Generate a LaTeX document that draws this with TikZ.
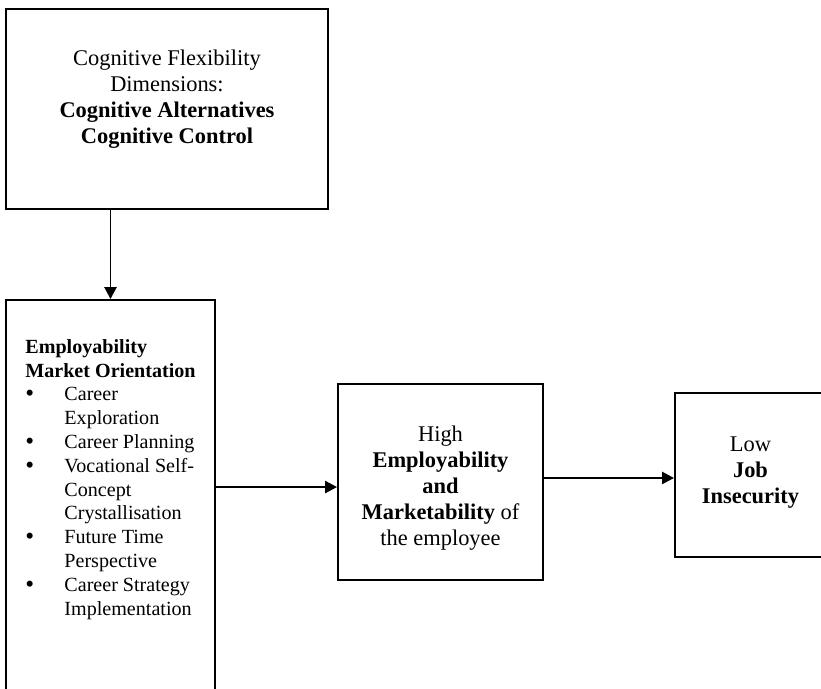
\documentclass[tikz,border=0pt]{standalone}
\usepackage{fontspec}
\setmainfont{Liberation Serif}
\usetikzlibrary{arrows.meta,fit}
% bullet column and hanging indent for the list items
\newcommand\bul{\makebox[20.9pt][l]{\raisebox{-0.5pt}{\fontsize{13.5}{13.5}\selectfont\textbullet}}}
\newcommand\ind{\hspace*{20.9pt}}
\begin{document}
\begin{tikzpicture}[x=0.535pt,y=-0.535pt,
  box/.style={draw=black,line width=1.1pt,inner sep=0pt},
  txt/.style={inner sep=0pt,anchor=north,align=center,font=\fontsize{12}{13.9}\selectfont},
  listtxt/.style={inner sep=0pt,anchor=north west,align=left,font=\fontsize{10.75}{12.73}\selectfont},
  arr/.style={line width=0.9pt,-{Triangle[length=6.4pt,width=6.6pt]}}]
\useasboundingbox (0,0) rectangle (821,688);
\clip (0,0) rectangle (821,688);
\fill[white] (0,0) rectangle (821,688);

% boxes
\node[box,fit={(6,9) (328,209)}] (flex) {};
\node[box,fit={(6,300) (215,740)}] (orient) {};
\node[box,fit={(338,384) (543,580)}] (employ) {};
\node[box,fit={(675,393) (826,557)}] (insec) {};

% box texts
\node[txt] (flextext) at (167,50) {Cognitive Flexibility\\Dimensions:\\\textbf{Cognitive Alternatives}\\\textbf{Cognitive Control}};
\node[listtxt] (orienttext) at (25,339) {\textbf{Employability}\\
\textbf{Market Orientation}\\
\bul Career\\
\ind Exploration\\
\bul Career Planning\\
\bul Vocational Self-\\
\ind Concept\\
\ind Crystallisation\\
\bul Future Time\\
\ind Perspective\\
\bul Career Strategy\\
\ind Implementation};
\node[txt] (employtext) at (440.5,426) {High\\\textbf{Employability}\\\textbf{and}\\\textbf{Marketability} of\\the employee};
\node[txt] (insectext) at (750.5,436) {Low\\\textbf{Job}\\\textbf{Insecurity}};

% arrow entry points on the receiving boxes
\coordinate (employin) at ([yshift=-2.7pt]employ.west);
\coordinate (insecin) at ([yshift=-1.6pt]insec.west);

% connectors
\draw[arr] (flex.south -| orient.north) -- (orient.north);
\draw[arr] (orient.east |- employin) -- (employin);
\draw[arr] (employ.east |- insecin) -- (insecin);
\end{tikzpicture}
\end{document}
